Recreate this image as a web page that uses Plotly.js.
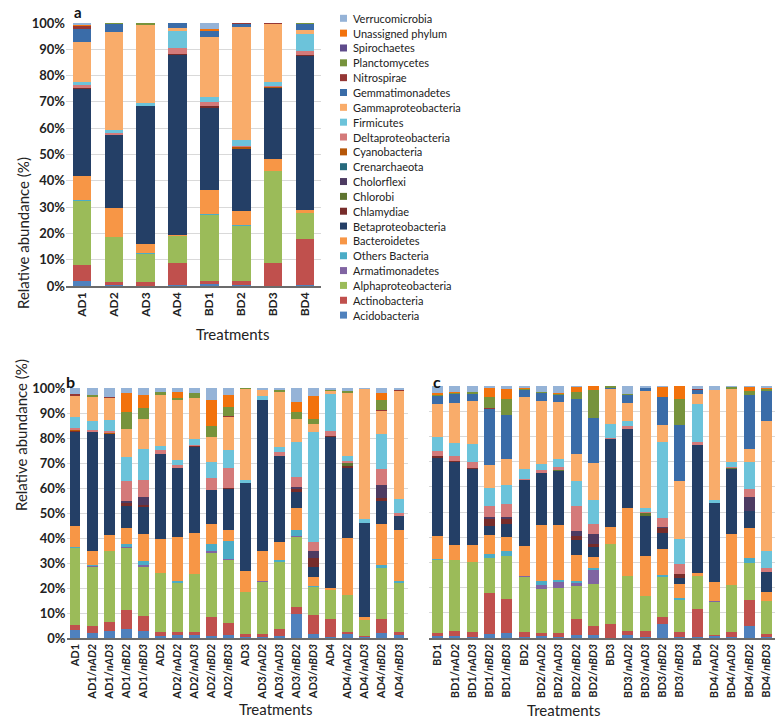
<!DOCTYPE html>
<html>
<head>
<meta charset="utf-8">
<script src="https://cdn.plot.ly/plotly-3.0.1.min.js"></script>
<style>
  html, body { margin: 0; padding: 0; background: #fff; }
  #chart { width: 776px; height: 728px; }
</style>
</head>
<body>
<div id="chart"></div>
<script>
// categories
var catA = ["AD1", "AD2", "AD3", "AD4", "BD1", "BD2", "BD3", "BD4"];
var catB = ["AD1", "AD1/nAD2", "AD1/nAD3", "AD1/nBD2", "AD1/nBD3", "AD2", "AD2/nAD2", "AD2/nAD3", "AD2/nBD2", "AD2/nBD3",
            "AD3", "AD3/nAD2", "AD3/nAD3", "AD3/nBD2", "AD3/nBD3", "AD4", "AD4/nAD2", "AD4/nAD3", "AD4/nBD2", "AD4/nBD3"];
var catC = ["BD1", "BD1/nAD2", "BD1/nAD3", "BD1/nBD2", "BD1/nBD3", "BD2", "BD2/nAD2", "BD2/nAD3", "BD2/nBD2", "BD2/nBD3",
            "BD3", "BD3/nAD2", "BD3/nAD3", "BD3/nBD2", "BD3/nBD3", "BD4", "BD4/nAD2", "BD4/nAD3", "BD4/nBD2", "BD4/nBD3"];

// relative abundance (%), panel a
var acidoA   = [2, 0.3, 0, 0.5, 0.8, 0.3, 0, 0.3];
var actinoA  = [5.8, 1.3, 1.6, 8.4, 1, 1.5, 8.9, 17.5];
var alphaA   = [24.5, 17.2, 10.5, 10.1, 25.2, 21, 34.9, 10];
var armatA   = [0, 0, 0, 0, 0, 0, 0, 0];
var othersA  = [0.5, 0, 0.5, 0, 0.4, 0.5, 0, 0];
var bacterA  = [9, 10.8, 3.3, 0.5, 9, 5.4, 4.4, 1];
var betaA    = [33, 27.9, 52.6, 68.4, 31.2, 23.5, 27.1, 58.5];
var chlamA   = [0.3, 0, 0, 0.3, 0.8, 0, 0, 0.7];
var chlorA   = [0, 0, 0, 0, 0, 0, 0, 0];
var cholA    = [0, 0, 0, 0, 0, 0, 0, 0];
var crenA    = [0, 0, 0, 0, 0, 0, 0, 0];
var cyanoA   = [0, 0, 0, 0, 0, 0.5, 0.4, 0];
var deltaA   = [1.2, 0.8, 0, 2.3, 1.6, 0.6, 0.3, 1.3];
var firmA    = [1.2, 1, 1, 6.3, 2, 2.2, 1.4, 6.5];
var gammaA   = [15.3, 37.4, 29.6, 1.3, 22.5, 42.8, 22.1, 1.7];
var gemmA    = [4.9, 2.9, 0, 1.9, 2.3, 1.4, 0, 2];
var nitroA   = [1, 0, 0.3, 0, 0.3, 0.3, 0.5, 0];
var planctA  = [0.3, 0.4, 0.6, 0, 0, 0, 0, 0.5];
var spiroA   = [0, 0, 0, 0, 0, 0, 0, 0];
var unassA   = [0.2, 0, 0, 0, 0.7, 0, 0, 0];
var verrucA  = [0.8, 0, 0, 0, 2.2, 0, 0, 0];

// panel b
var acidoB   = [3.3, 2, 2.7, 3.7, 2.9, 1, 1.3, 1.3, 1, 1.3, 0.5, 0.3, 0.8, 9.8, 1.7, 0.5, 1.7, 0.3, 1.9, 1.2];
var actinoB  = [2, 3, 3.7, 7.6, 6, 1.3, 1.1, 1, 7.6, 4.9, 1, 1.3, 2.7, 2.7, 7.4, 7.1, 0.9, 0.4, 5.8, 1.3];
var alphaB   = [30.7, 23.6, 28.3, 24.7, 19.7, 23.6, 19.6, 23.2, 25.3, 25, 17.1, 20.9, 27, 28.1, 11.4, 11.6, 14.5, 6.6, 20.3, 19.7];
var armatB   = [0, 0.3, 0, 0.5, 0.5, 0, 0, 0, 0.9, 0.4, 0, 0.4, 0, 0.3, 0, 0, 0, 0, 0, 0];
var othersB  = [0.6, 0.3, 0, 1.3, 1.8, 0, 0.9, 0, 2.7, 7.2, 0, 0, 0.7, 2.5, 0.4, 0, 0, 0, 1.1, 0.7];
var bacterB  = [8.3, 5.6, 6.4, 6.3, 10.7, 13.7, 17.7, 16.4, 8, 4.4, 8.4, 12, 7.1, 8.7, 3.6, 0.7, 23, 1, 16.7, 20.2];
var betaB    = [37.7, 47.7, 40.5, 8.7, 10.7, 33.9, 27.6, 34.7, 13.7, 16.5, 35.2, 60.2, 34.4, 6.4, 4, 60.5, 28.1, 37.9, 9, 5.6];
var chlamB   = [0.3, 0, 0, 1.4, 0.9, 0.3, 0, 0.3, 0, 0.5, 0, 0, 0, 1.1, 3.6, 0.3, 0.5, 0, 1.3, 0];
var chlorB   = [0, 0, 0, 0, 0, 0, 0, 0, 0, 0, 0, 0, 0, 0, 0, 0, 1.3, 0, 0, 0];
var cholB    = [0, 0, 0, 0.7, 3.3, 0, 0, 0, 0, 0, 0, 0, 0, 0.8, 2.7, 0, 0, 0, 5, 0];
var crenB    = [0, 0, 0, 0, 0, 0, 0, 0, 0, 0, 0, 0, 0, 0, 0, 0, 0, 0, 0, 0];
var cyanoB   = [0.4, 0, 0.4, 0, 0, 0, 0, 0, 0, 0, 0, 0, 0, 0, 0, 0, 0, 0, 0, 0];
var deltaB   = [0.7, 0.7, 0.8, 8, 6.7, 1.3, 1, 0.5, 4.9, 7.8, 0, 0, 1.7, 3.9, 3.5, 2, 0.9, 0, 6.7, 1.3];
var firmB    = [4.4, 3.6, 4.5, 9.7, 12.3, 1.7, 2, 2.4, 6.4, 7.4, 0.9, 1.7, 1.9, 14.1, 44.2, 15, 2.1, 1.3, 13.8, 5.6];
var gammaB   = [8.3, 9.7, 8.8, 11.2, 12, 20.3, 24, 16.4, 10, 13, 36.5, 2.3, 22.2, 9.4, 3.2, 1.1, 25, 52.3, 9.4, 43.2];
var gemmB    = [0.3, 0, 0, 0, 0, 0, 0, 0, 0, 0, 0, 0, 0, 0, 0, 0, 0, 0, 0, 0];
var nitroB   = [0.5, 0, 0.5, 0, 0, 0, 0, 0, 0, 0.6, 0, 0, 0, 0, 0, 0, 0, 0, 0.4, 0.6];
var planctB  = [0.2, 0.7, 0, 6.7, 4.4, 1.3, 1, 1.8, 4.4, 3.4, 0.4, 0, 0.9, 2.7, 2.1, 0.5, 0.9, 0, 4, 0];
var spiroB   = [0, 0, 0, 0, 0, 0, 0, 0, 0, 0, 0, 0, 0, 0, 0, 0, 0, 0, 0, 0];
var unassB   = [0, 0, 0, 7.7, 5.3, 0, 2.4, 0, 10.3, 4.8, 0, 0, 0, 4, 9, 0, 0, 0, 2.7, 0];
var verrucB  = [2.3, 2.8, 3.4, 1.8, 2.8, 1.6, 1.4, 2, 4.8, 2.8, 0, 0.9, 0.6, 5.5, 3.2, 0.7, 1.1, 0.2, 1.9, 0.6];

// panel c
var acidoC   = [0.8, 0.8, 0.5, 1.7, 2.1, 0.5, 0.8, 0.5, 1.3, 1.1, 0, 1.1, 0.3, 5.7, 0.5, 0.3, 0.8, 0.5, 4.8, 0.3];
var actinoC  = [1.3, 1.9, 1.7, 16.3, 13.2, 1.7, 1.3, 1.3, 6.1, 3.7, 5.7, 1.6, 2.6, 2.6, 1.7, 11.2, 0.4, 1.7, 10.2, 1.3];
var alphaC   = [28.7, 28.2, 28, 13.8, 17.2, 22.1, 17.5, 18.1, 13.2, 16.8, 31.7, 22, 13.9, 15.9, 12.8, 13.2, 13.1, 18.8, 14.6, 13.2];
var armatC   = [0, 0, 0, 0, 0, 0.4, 1.3, 2.4, 1.3, 5.3, 0, 0, 0, 0, 0, 0, 0.4, 0, 0, 0];
var othersC  = [0.7, 0, 0, 1.7, 1.9, 0, 1.6, 0.6, 0.9, 0.7, 0, 0, 0, 0.9, 0.9, 0, 0, 0, 2, 0];
var bacterC  = [9, 6.2, 6.9, 7.3, 5.7, 11.9, 22.2, 22.1, 10.2, 4.6, 6.6, 26.7, 15.9, 10.3, 5.7, 1, 7.7, 20.1, 11.9, 3.6];
var betaC    = [31, 32.8, 29.9, 3.7, 5.3, 26.1, 20.9, 21.2, 5.7, 4, 35.1, 31.5, 15.9, 6.3, 2.2, 50.8, 31.1, 25.9, 6.9, 7.7];
var chlamC   = [0.8, 0.4, 0.4, 2.9, 2, 0, 0, 0, 1.7, 1.3, 0, 0, 0, 1.9, 1.7, 0, 0, 0, 0, 0];
var chlorC   = [0, 0, 0, 0, 0, 0, 0, 0.5, 0, 0, 0, 0, 1, 0, 0, 0, 0, 0.5, 0, 0];
var cholC    = [0, 0, 0, 0.8, 0.5, 0, 0, 0, 1.9, 3.6, 0, 0, 0, 0.5, 0, 0, 0, 0, 5.7, 0];
var crenC    = [0, 0, 0, 0, 0, 0, 0, 0, 0, 0, 0, 0, 0, 0, 0, 0, 0, 0, 0, 0];
var cyanoC   = [0, 0, 0, 0, 0, 0, 0, 0, 0, 0, 0, 0, 0, 0, 0, 0, 0, 0, 0, 0];
var deltaC   = [1.9, 2.1, 2.4, 4, 5.4, 0.4, 0.9, 1.3, 10, 4, 0.4, 1.3, 0.5, 3.6, 4, 1.3, 0, 0.4, 3, 1.6];
var firmC    = [5.7, 4.9, 7.3, 7.5, 7.3, 4, 2.6, 3.2, 10.2, 9.7, 5.3, 1.9, 1.3, 30.1, 9.9, 15, 1.3, 2, 10.8, 7];
var gammaC   = [12.8, 15.9, 16.8, 9, 10.3, 28.7, 25.1, 22.5, 10.6, 14.6, 13.9, 7, 46.7, 6.6, 22.8, 4, 43.5, 29.1, 5.3, 51.6];
var gemmC    = [3.4, 3.6, 3, 22.3, 17.5, 2.6, 3, 2.6, 21.8, 17.9, 0.7, 3.3, 1.3, 11.2, 22.2, 1.7, 0, 0, 21.4, 11.9];
var nitroC   = [0, 0, 0, 0.4, 0, 0, 0, 0, 0, 0, 0, 0, 0, 0, 0, 0.5, 0, 0, 0, 0];
var planctC  = [0.4, 0.6, 0.7, 4.2, 6.6, 0.3, 0.4, 0.5, 2.9, 11.2, 0.6, 0.5, 0, 0, 10.6, 0, 0, 0.5, 1.3, 0.5];
var spiroC   = [0, 0, 0, 0, 0, 0, 0, 0, 0, 0, 0, 0, 0, 0, 0, 0, 0, 0, 0, 0];
var unassC   = [0.6, 0.4, 0, 3.7, 3.7, 0.5, 0, 0.6, 1.7, 1.5, 0, 0, 0, 4, 5, 0, 0, 0, 1.7, 0.6];
var verrucC  = [2.9, 2.2, 2.4, 0.7, 1.3, 0.8, 2.4, 2.6, 0.5, 0, 0, 3.1, 0.6, 0.4, 0, 1, 1.7, 0.5, 0.4, 0.7];

// stacking order, bottom to top
var series = [
  {name: "Acidobacteria",       color: "#4F81BD", a: acidoA,  b: acidoB,  c: acidoC},
  {name: "Actinobacteria",      color: "#C0504D", a: actinoA, b: actinoB, c: actinoC},
  {name: "Alphaproteobacteria", color: "#9BBB59", a: alphaA,  b: alphaB,  c: alphaC},
  {name: "Armatimonadetes",     color: "#8064A2", a: armatA,  b: armatB,  c: armatC},
  {name: "Others Bacteria",     color: "#4BACC6", a: othersA, b: othersB, c: othersC},
  {name: "Bacteroidetes",       color: "#F79646", a: bacterA, b: bacterB, c: bacterC},
  {name: "Betaproteobacteria",  color: "#243F66", a: betaA,   b: betaB,   c: betaC},
  {name: "Chlamydiae",          color: "#772C2A", a: chlamA,  b: chlamB,  c: chlamC},
  {name: "Chlorobi",            color: "#5F7530", a: chlorA,  b: chlorB,  c: chlorC},
  {name: "Cholorflexi",         color: "#4D3B62", a: cholA,   b: cholB,   c: cholC},
  {name: "Crenarchaeota",       color: "#276A7C", a: crenA,   b: crenB,   c: crenC},
  {name: "Cyanobacteria",       color: "#B65708", a: cyanoA,  b: cyanoB,  c: cyanoC},
  {name: "Deltaproteobacteria", color: "#D47A7A", a: deltaA,  b: deltaB,  c: deltaC},
  {name: "Firmicutes",          color: "#6CC3DA", a: firmA,   b: firmB,   c: firmC},
  {name: "Gammaproteobacteria", color: "#F9AC6A", a: gammaA,  b: gammaB,  c: gammaC},
  {name: "Gemmatimonadetes",    color: "#3A6CA8", a: gemmA,   b: gemmB,   c: gemmC},
  {name: "Nitrospirae",         color: "#953735", a: nitroA,  b: nitroB,  c: nitroC},
  {name: "Planctomycetes",      color: "#77933C", a: planctA, b: planctB, c: planctC},
  {name: "Spirochaetes",        color: "#5F4B8B", a: spiroA,  b: spiroB,  c: spiroC},
  {name: "Unassigned phylum",   color: "#F2720C", a: unassA,  b: unassB,  c: unassC},
  {name: "Verrucomicrobia",     color: "#95B3D7", a: verrucA, b: verrucB, c: verrucC}
];

var W = 776, H = 728;
function fx(p) { return p / W; }
function fy(p) { return 1 - p / H; }

var FONT = "Lato, 'Open Sans', Arial, sans-serif";

var data = [];
series.forEach(function (s) {
  data.push({type: "bar", x: catA, y: s.a, name: s.name, marker: {color: s.color},
             xaxis: "x", yaxis: "y", width: 0.58, showlegend: false});
  data.push({type: "bar", x: catB, y: s.b, name: s.name, marker: {color: s.color},
             xaxis: "x2", yaxis: "y2", width: 0.64, showlegend: false});
  data.push({type: "bar", x: catC, y: s.c, name: s.name, marker: {color: s.color},
             xaxis: "x3", yaxis: "y3", width: 0.64, showlegend: false});
});

function italicN(s) {
  return s.indexOf("/n") > 0 ? s.replace("/n", "/<i>n") + "</i>" : s;
}

var yBase = {
  range: [0, 100], dtick: 10, ticksuffix: "%", showgrid: true, gridcolor: "#d9d9d9",
  zeroline: false, showline: false, ticks: "", fixedrange: true,
  tickfont: {family: FONT, size: 13, color: "#222", weight: "bold"}
};
var xBase = {
  type: "category", tickangle: -90, showline: true, linecolor: "#6b6b6b", linewidth: 1.5,
  ticks: "", showgrid: false, fixedrange: true,
  tickfont: {family: FONT, size: 11, color: "#222", weight: "bold"}
};

var layout = {
  width: W, height: H,
  margin: {l: 0, r: 0, t: 0, b: 0},
  paper_bgcolor: "#fff", plot_bgcolor: "#fff",
  barmode: "stack",
  showlegend: false,
  font: {family: FONT, color: "#222"},
  xaxis: Object.assign({}, xBase, {domain: [fx(66), fx(321)], anchor: "y",
         tickfont: {family: FONT, size: 12, color: "#222", weight: "bold"}}),
  yaxis: Object.assign({}, yBase, {domain: [fy(286), fy(23)], anchor: "x"}),
  xaxis2: Object.assign({}, xBase, {domain: [fx(66.5), fx(407.5)], anchor: "y2",
          tickmode: "array", tickvals: catB, ticktext: catB.map(italicN)}),
  yaxis2: Object.assign({}, yBase, {domain: [fy(638), fy(388)], anchor: "x2"}),
  xaxis3: Object.assign({}, xBase, {domain: [fx(429), fx(775)], anchor: "y3",
          tickmode: "array", tickvals: catC, ticktext: catC.map(italicN)}),
  yaxis3: Object.assign({}, yBase, {domain: [fy(638), fy(386)], anchor: "x3", showticklabels: false}),
  shapes: [],
  annotations: [
    {text: "<b>a</b>", x: fx(72), y: fy(1), xref: "paper", yref: "paper", xanchor: "left", yanchor: "top",
     showarrow: false, font: {family: FONT, size: 15, color: "#111"}},
    {text: "<b>b</b>", x: fx(64), y: fy(381), xref: "paper", yref: "paper", xanchor: "left", yanchor: "middle",
     showarrow: false, font: {family: FONT, size: 16, color: "#111"}},
    {text: "<b>c</b>", x: fx(431), y: fy(381), xref: "paper", yref: "paper", xanchor: "left", yanchor: "middle",
     showarrow: false, font: {family: FONT, size: 16, color: "#111"}},
    {text: "Treatments", x: fx(194), y: fy(334), xref: "paper", yref: "paper", showarrow: false,
     font: {family: FONT, size: 15, color: "#222"}},
    {text: "Treatments", x: fx(237), y: fy(720), xref: "paper", yref: "paper", showarrow: false,
     font: {family: FONT, size: 15, color: "#222"}},
    {text: "Treatments", x: fx(602), y: fy(721), xref: "paper", yref: "paper", showarrow: false,
     font: {family: FONT, size: 15, color: "#222"}},
    {text: "Relative abundance (%)", x: fx(12), y: fy(155), xref: "paper", yref: "paper", showarrow: false,
     textangle: -90, font: {family: FONT, size: 15, color: "#222"}},
    {text: "Relative abundance (%)", x: fx(10), y: fy(513), xref: "paper", yref: "paper", showarrow: false,
     textangle: -90, font: {family: FONT, size: 15, color: "#222"}}
  ]
};

// legend for panel a, drawn as swatches + labels (top entry = last series)
var legTop = 18.3, legStep = 14.84;
series.slice().reverse().forEach(function (s, k) {
  var cy = legTop + legStep * k;
  layout.shapes.push({type: "rect", xref: "paper", yref: "paper",
    x0: fx(340), x1: fx(347), y0: fy(cy + 3.5), y1: fy(cy - 3.5),
    fillcolor: s.color, line: {width: 0}});
  layout.annotations.push({text: s.name, x: fx(351), y: fy(cy), xref: "paper", yref: "paper",
    xanchor: "left", yanchor: "middle", showarrow: false,
    font: {family: FONT, size: 11, color: "#222"}});
});

Plotly.newPlot("chart", data, layout, {displayModeBar: false, staticPlot: true});
</script>
</body>
</html>
